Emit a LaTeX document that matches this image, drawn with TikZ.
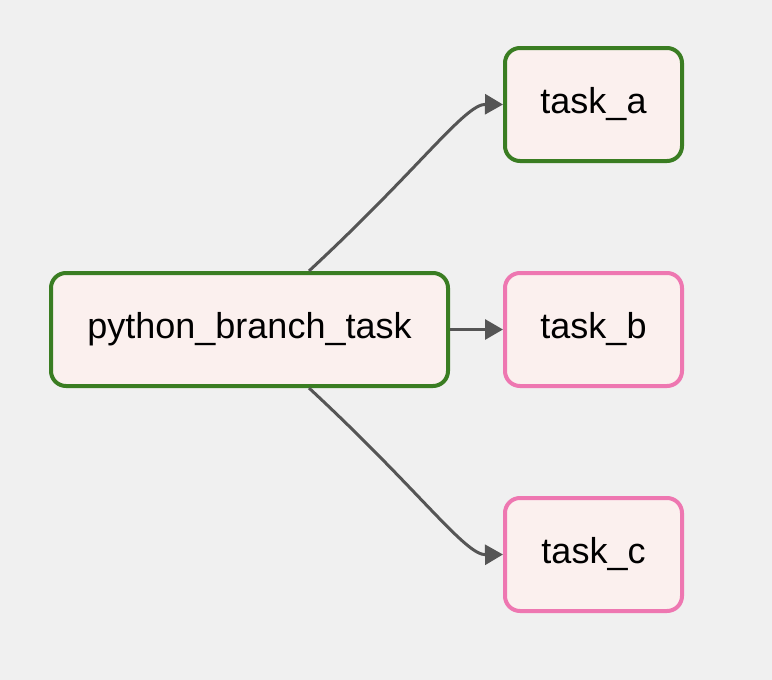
\documentclass[tikz,border=0pt]{standalone}
\usepackage{fontspec}
\setmainfont{Liberation Sans}
\usetikzlibrary{arrows.meta,calc}
\definecolor{bgcol}{HTML}{F0F0F0}
\definecolor{taskfill}{HTML}{FBF0EE}
\definecolor{okgreen}{HTML}{3A7D22}
\definecolor{skippink}{HTML}{EE77B1}
\definecolor{edgecol}{HTML}{555555}
\tikzset{
	task/.style={draw, fill=taskfill, line width=2pt, rounded corners=7.5pt, minimum height=56.5pt, inner sep=0pt, font=\fontsize{18}{20}\selectfont},
	success/.style={task, draw=okgreen},
	skipped/.style={task, draw=skippink},
	flow/.style={draw=edgecol, line width=1.5pt, -{Triangle[length=9pt,width=10pt]}}
}
\begin{document}
\begin{tikzpicture}[x=0.5pt,y=-0.5pt]
			\fill[bgcol] (0,0) rectangle (772,680);
			\useasboundingbox (0,0) rectangle (772,680);
			\node[success, minimum width=198.5pt] (branch) at (249.5,329.5) {python\_branch\_task};
			\node[success, minimum width=88.5pt] (a) at (593.5,104.5) {task\_a};
			\node[skipped, minimum width=88.5pt] (b) at (593.5,329.5) {task\_b};
			\node[skipped, minimum width=88.5pt] (c) at (593.5,554.5) {task\_c};
			\coordinate (up) at ($(branch.north)+(59.5,0)$);
			\coordinate (down) at ($(branch.south)+(59.5,0)$);
			\draw[flow] (up) .. controls (420,168) and (465,104) .. (a.west);
			\draw[flow] (branch.east) -- (b.west);
			\draw[flow] (down) .. controls (420,491) and (465,555) .. (c.west);
		\end{tikzpicture}
\end{document}
